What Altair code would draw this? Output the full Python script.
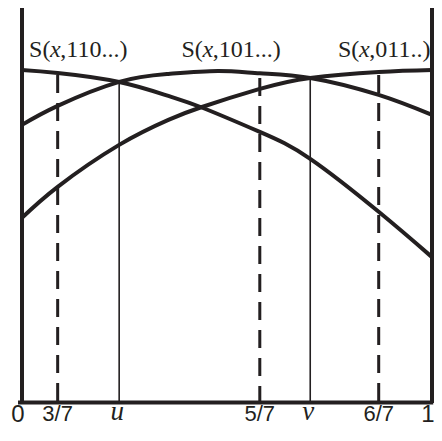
import altair as alt
import pandas as pd

# ---- data (x normalised 0..1, height normalised so the top of the curves = 1)
x_a = [0.0, 0.087, 0.237, 0.357, 0.437, 0.58, 0.703, 0.87, 1.0]
s110 = [1.0, 0.991, 0.964, 0.922, 0.888, 0.814, 0.733, 0.574, 0.438]
x_b = [0.0, 0.087, 0.237, 0.357, 0.478, 0.58, 0.703, 0.87, 1.0]
s101 = [0.835, 0.892, 0.964, 0.988, 0.997, 0.990, 0.976, 0.925, 0.865]
x_c = [0.0, 0.087, 0.237, 0.357, 0.437, 0.58, 0.703, 0.87, 1.0]
s011 = [0.556, 0.649, 0.775, 0.850, 0.888, 0.943, 0.976, 0.994, 1.0]

series_names = ["S(x,110...)", "S(x,101...)", "S(x,011..)"]
name_suffix = [",110...)", ",101...)", ",011..)"]
name_anchor = [0.0814, 0.453, 0.835]

mark_x = [0.087, 0.237, 0.58, 0.703, 0.87]
mark_top = [0.985, 0.964, 0.976, 0.976, 0.985]
mark_kind = ["dashed", "solid", "dashed", "solid", "dashed"]
mark_label = ["3/7", "u", "5/7", "v", "6/7"]

end_x = [0.0, 1.0]
end_label = ["0", "1"]

# frame (left, right, bottom edges of the box)
frame_x = [0.0, 1.0, -0.0097]
frame_x2 = [0.0, 1.0, 1.003]
frame_y = [0.0, 0.0, 0.0015]
frame_y2 = [1.25, 1.25, 0.0015]

INK = "#231f20"

curves = pd.concat([
    pd.DataFrame({"x": x_a, "y": s110, "s": series_names[0]}),
    pd.DataFrame({"x": x_b, "y": s101, "s": series_names[1]}),
    pd.DataFrame({"x": x_c, "y": s011, "s": series_names[2]}),
])
marks = pd.DataFrame({"x": mark_x, "top": mark_top, "bottom": 0.0,
                      "kind": mark_kind, "label": mark_label})
dashed_df = marks[marks.kind == "dashed"]
solid_df = marks[marks.kind == "solid"]
ends_l = pd.DataFrame({"x": end_x[:1], "label": end_label[:1]})
ends_r = pd.DataFrame({"x": end_x[1:], "label": end_label[1:]})
names = pd.DataFrame({"x": name_anchor, "suffix": name_suffix})
frame = pd.DataFrame({"x": frame_x, "x2": frame_x2, "y": frame_y, "y2": frame_y2})

xs = alt.Scale(domain=[0, 1], nice=False, zero=False)
ys = alt.Scale(domain=[0, 1.186], nice=False, zero=False)


def X(f="x"):
    return alt.X(f, type="quantitative", scale=xs, axis=None)


def Y(f="y"):
    return alt.Y(f, type="quantitative", scale=ys, axis=None)


lines = alt.Chart(curves).mark_line(
    color=INK, strokeWidth=4, interpolate="natural"
).encode(x=X(), y=Y(), detail="s:N")

dashed = alt.Chart(dashed_df).mark_rule(
    color=INK, strokeWidth=3, strokeDash=[18, 10]
).encode(x=X(), y=Y("top"), y2="bottom")

solid = alt.Chart(solid_df).mark_rule(
    color=INK, strokeWidth=1.6
).encode(x=X(), y=Y("top"), y2="bottom")

frame_rules = alt.Chart(frame).mark_rule(color=INK, strokeWidth=4).encode(
    x=X("x"), x2="x2", y=Y("y"), y2="y2")

frac_text = alt.Chart(dashed_df).mark_text(
    font="Liberation Sans", fontSize=22, color=INK, align="center", baseline="alphabetic"
).encode(x=X(), y=alt.value(413), text="label:N")

ital_text = alt.Chart(solid_df).mark_text(
    font="Liberation Serif", fontStyle="italic", fontSize=27, color=INK, align="center",
    baseline="alphabetic", dx=-2
).encode(x=X(), y=alt.value(412), text="label:N")

end_text_l = alt.Chart(ends_l).mark_text(
    font="Liberation Sans", fontSize=24, color=INK, align="center", baseline="alphabetic", dx=-4
).encode(x=X(), y=alt.value(414), text="label:N")
end_text_r = alt.Chart(ends_r).mark_text(
    font="Liberation Sans", fontSize=24, color=INK, align="center", baseline="alphabetic", dx=-4
).encode(x=X(), y=alt.value(414), text="label:N")

name_pre = alt.Chart(names).mark_text(
    font="Liberation Serif", fontSize=24, color=INK, align="right", baseline="alphabetic",
    dx=-5, text="S("
).encode(x=X(), y=alt.value(48.5))
name_x = alt.Chart(names).mark_text(
    font="Liberation Serif", fontStyle="italic", fontSize=24, color=INK, align="center",
    baseline="alphabetic", text="x"
).encode(x=X(), y=alt.value(48.5))
name_suf = alt.Chart(names).mark_text(
    font="Liberation Serif", fontSize=24, color=INK, align="left", baseline="alphabetic", dx=5
).encode(x=X(), y=alt.value(48.5), text="suffix:N")

chart = alt.layer(
    dashed, solid, lines, frame_rules,
    frac_text, ital_text, end_text_l, end_text_r, name_pre, name_x, name_suf
).properties(
    width=410, height=395,
    autosize=alt.AutoSizeParams(type="none"),
    padding={"left": 14, "top": 0, "right": 2, "bottom": 24},
    background="white",
).configure_view(stroke=None)

chart.save("out.html", embed_options={"renderer": "svg", "actions": False})
